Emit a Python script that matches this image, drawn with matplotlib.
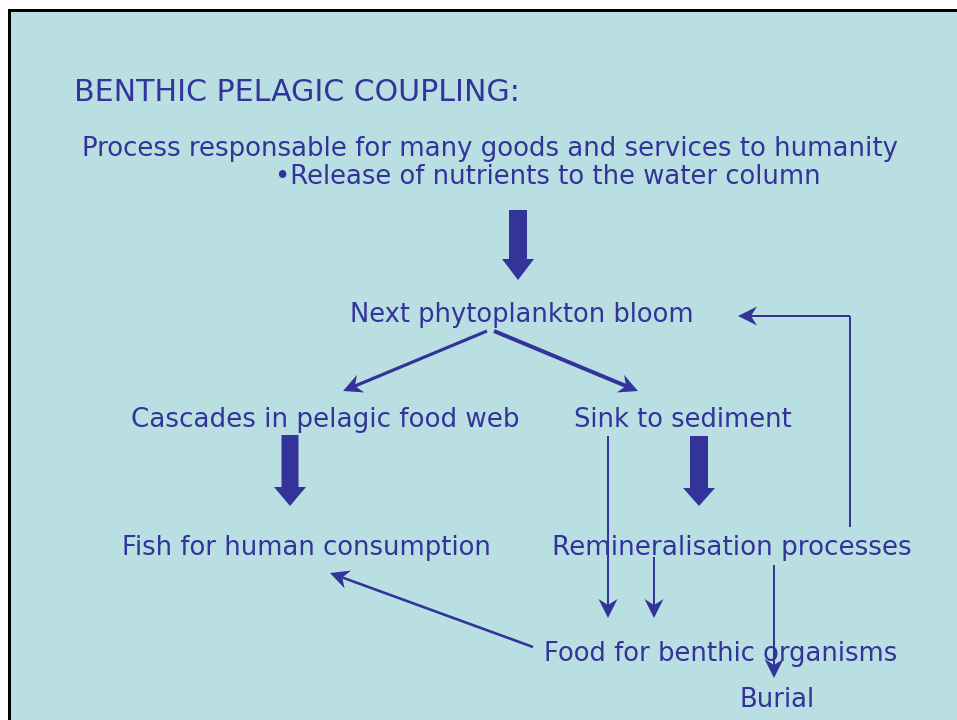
import numpy as np
import matplotlib
matplotlib.use("Agg")
import matplotlib.pyplot as plt
from matplotlib.patches import Rectangle, Polygon

W, H = 957, 720
BG = "#BADFE3"
INK = "#333399"

# ---- text nodes: (label, left x, baseline y, size) ----
labels = ["BENTHIC PELAGIC COUPLING:",
          "Process responsable for many goods and services to humanity",
          "\u2022Release of nutrients to the water column",
          "Next phytoplankton bloom",
          "Cascades in pelagic food web",
          "Sink to sediment",
          "Fish for human consumption",
          "Remineralisation processes",
          "Food for benthic organisms",
          "Burial"]
label_x = [74, 82, 275, 350, 131, 574, 122, 552, 544, 740]
label_y = [101, 156, 184, 322, 427, 427, 555, 555, 661, 707]
label_size = [21.6, 18.7, 18.6, 18.5, 18.8, 18.5, 18.6, 18.9, 18.6, 18.6]

# ---- block arrows: (x, y_start, y_end, shaft width, head width, head length) ----
block_x = [518, 290, 699]
block_y0 = [210, 435, 436]
block_y1 = [280, 506, 506]
block_w = [18, 17, 18]
block_hw = [32, 32, 32]
block_hl = [21, 19, 18]

# ---- thin arrows: start, end, linewidth(px) ----
thin_x0 = [487, 494, 608, 654, 774, 533]
thin_y0 = [331, 331, 436, 557, 565, 647]
thin_x1 = [343, 638, 608, 654, 774, 330]
thin_y1 = [391, 391, 618, 618, 678, 573]
thin_lw = [3.2, 4.0, 2.0, 2.0, 2.0, 2.6]

# ---- feedback path (polyline, arrow at last point) ----
fb_x = [850, 850, 738]
fb_y = [527, 316, 316]

fig = plt.figure(figsize=(W / 100, H / 100), dpi=100)
fig.patch.set_facecolor("white")
ax = fig.add_axes([0, 0, 1, 1])
ax.set_xlim(0, W)
ax.set_ylim(H, 0)
ax.axis("off")

ax.add_patch(Rectangle((8.5, 9.5), W + 20, H + 20, facecolor=BG,
                       edgecolor="black", linewidth=3 * 0.72, zorder=0))

for t, x, y, s in zip(labels, label_x, label_y, label_size):
    ax.text(x, y, t, ha="left", va="baseline", fontsize=s, color=INK,
            family=["DejaVu Sans"], zorder=3)

for x, y0, y1, w, hw, hl in zip(block_x, block_y0, block_y1, block_w, block_hw, block_hl):
    ax.arrow(x, y0, 0, y1 - y0, width=w, head_width=hw, head_length=hl,
             length_includes_head=True, color=INK, linewidth=0, zorder=2)


def head(x0, y0, x1, y1, lw, hl=19, hw=19, notch=6):
    d = np.array([x1 - x0, y1 - y0], float)
    d /= np.hypot(*d)
    n = np.array([-d[1], d[0]])
    tip = np.array([x1, y1], float)
    back = tip - d * hl
    mid = tip - d * (hl - notch)
    ax.plot([x0, mid[0]], [y0, mid[1]], color=INK, lw=lw * 0.72,
            solid_capstyle="butt", zorder=2)
    ax.add_patch(Polygon([tip, back + n * hw / 2, mid, back - n * hw / 2],
                         closed=True, facecolor=INK, edgecolor="none", zorder=2))


for x0, y0, x1, y1, lw in zip(thin_x0, thin_y0, thin_x1, thin_y1, thin_lw):
    head(x0, y0, x1, y1, lw)

ax.plot(fb_x[:2], fb_y[:2], color=INK, lw=2 * 0.72, solid_capstyle="butt", zorder=2)
head(fb_x[1], fb_y[1], fb_x[2], fb_y[2], 2)

fig.savefig("out.png", dpi=100, facecolor=fig.get_facecolor())
